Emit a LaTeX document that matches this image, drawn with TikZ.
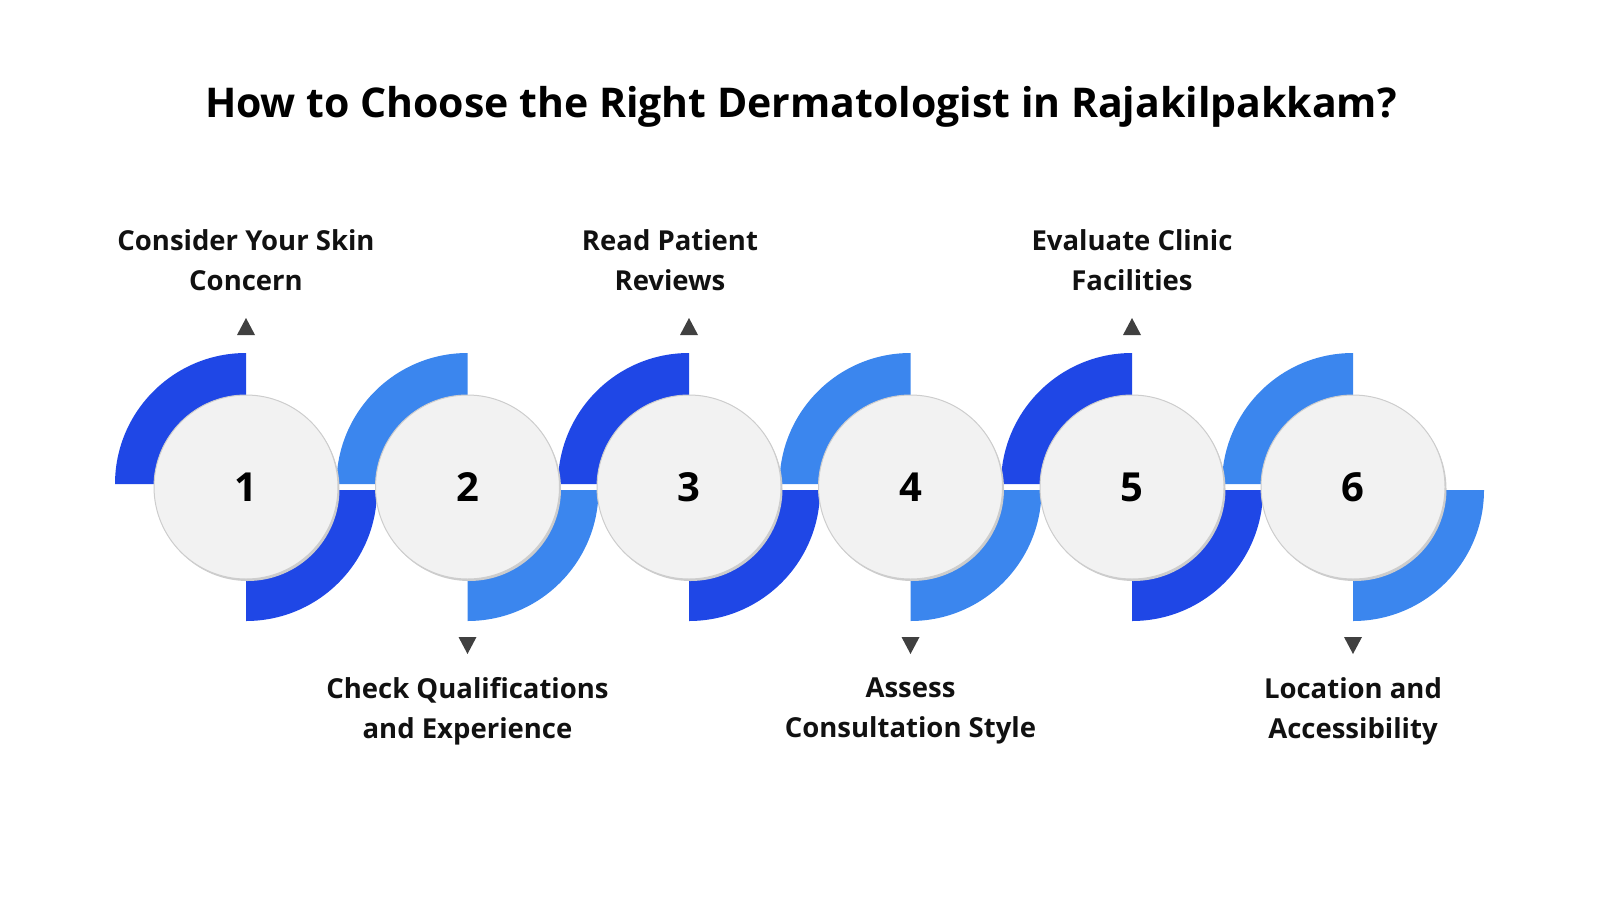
\documentclass[tikz,border=0pt]{standalone}
\usepackage{fontspec}
\setmainfont{Open Sans}
\begin{document}
\begin{tikzpicture}[x=1pt,y=-1pt,
  dark/.style={fill={rgb,255:red,31;green,71;blue,230}},
  light/.style={fill={rgb,255:red,59;green,134;blue,238}},
  disc/.style={circle,minimum size=184pt,inner sep=0pt,fill={rgb,255:red,242;green,242;blue,242},draw={rgb,255:red,205;green,205;blue,205},line width=1pt,font=\bfseries\fontsize{40}{40}\selectfont},
  lbl/.style={align=center,font=\bfseries\fontsize{27.5}{40}\selectfont,text={rgb,255:red,17;green,17;blue,17}},
  tri/.style={fill={rgb,255:red,64;green,64;blue,64}}]
\useasboundingbox (0,0) rectangle (1600,900);
\node[font=\bfseries\fontsize{41}{41}\selectfont] (title) at (801,107) {How to Choose the Right Dermatologist in Rajakilpakkam?};
\foreach \i/\x/\s in {1/246/dark,2/467.5/light,3/689/dark,4/910.5/light,5/1132/dark,6/1353/light}{
  \fill[\s] (\x-131,484) arc[start angle=180,end angle=270,radius=131] -- (\x,484) -- cycle;
  \fill[\s] (\x+131,490) arc[start angle=0,end angle=90,radius=131] -- (\x,490) -- cycle;
}
\foreach \i/\x in {1/246,2/467.5,3/689,4/910.5,5/1132,6/1353}{
  \fill[black!20] (\x+1.5,489) circle (92);
  \node[disc] (c\i) at (\x,487) {\i};
}
\foreach \i/\x in {1/246,3/689,5/1132}{
  \fill[tri] (\x,318) -- (\x+9,335) -- (\x-9,335) -- cycle;
}
\foreach \i/\x in {2/467.5,4/910.5,6/1353}{
  \fill[tri] (\x,654) -- (\x+9,637) -- (\x-9,637) -- cycle;
}
\node[lbl] (t1) at (246,260) {Consider Your Skin\\Concern};
\node[lbl] (t3) at (670,260) {Read Patient\\Reviews};
\node[lbl] (t5) at (1132,260) {Evaluate Clinic\\Facilities};
\node[lbl] (t2) at (467.5,711) {Check Qualifications\\and Experience};
\node[lbl] (t4) at (910.5,711) {Assess\\Consultation Style};
\node[lbl] (t6) at (1353,711) {Location and\\Accessibility};
\end{tikzpicture}
\end{document}
